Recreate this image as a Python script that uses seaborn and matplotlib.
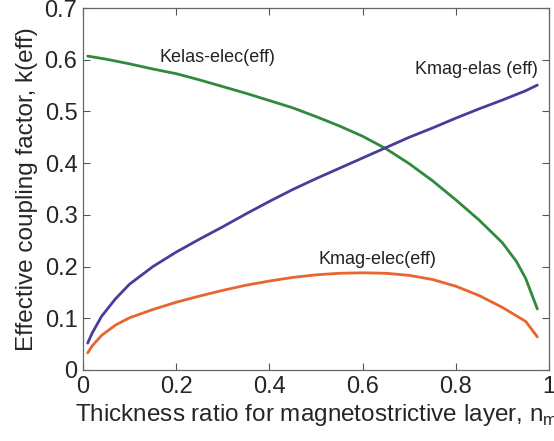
import numpy as np
import pandas as pd
import matplotlib
matplotlib.use("Agg")
import matplotlib.pyplot as plt
import seaborn as sns

# Data
x_green = [0.01, 0.05, 0.1, 0.15, 0.2, 0.25, 0.3, 0.35, 0.4, 0.45, 0.5, 0.55, 0.6,
           0.65, 0.7, 0.75, 0.8, 0.85, 0.9, 0.93, 0.95, 0.975]
k_elas_elec = [0.607, 0.601, 0.592, 0.582, 0.573, 0.561, 0.548, 0.535, 0.521, 0.507, 0.49,
               0.472, 0.452, 0.428, 0.399, 0.366, 0.329, 0.29, 0.246, 0.21, 0.177, 0.118]

x_purple = [0.01, 0.02, 0.04, 0.07, 0.1, 0.15, 0.2, 0.25, 0.3, 0.35, 0.4, 0.45, 0.5,
            0.55, 0.6, 0.65, 0.7, 0.75, 0.8, 0.85, 0.9, 0.95, 0.975]
k_mag_elas = [0.052, 0.072, 0.104, 0.138, 0.166, 0.2, 0.228, 0.253, 0.277, 0.302, 0.326,
              0.349, 0.37, 0.39, 0.41, 0.43, 0.45, 0.468, 0.487, 0.505, 0.522, 0.54, 0.551]

x_orange = [0.01, 0.02, 0.04, 0.07, 0.1, 0.15, 0.2, 0.25, 0.3, 0.35, 0.4, 0.45, 0.5,
            0.55, 0.6, 0.65, 0.7, 0.75, 0.8, 0.85, 0.9, 0.95, 0.975]
k_mag_elec = [0.033, 0.047, 0.067, 0.087, 0.101, 0.117, 0.131, 0.143, 0.154, 0.164, 0.172,
              0.179, 0.184, 0.187, 0.188, 0.187, 0.183, 0.175, 0.162, 0.144, 0.121, 0.094, 0.064]

x_ticks = [0, 0.2, 0.4, 0.6, 0.8, 1]
x_ticklabels = ["0", "0.2", "0.4", "0.6", "0.8", "1"]
y_ticks = [0, 0.1, 0.2, 0.3, 0.4, 0.5, 0.6, 0.7]
y_ticklabels = ["0", "0.1", "0.2", "0.3", "0.4", "0.5", "0.6", "0.7"]

labels = ["Kelas-elec(eff)", "Kmag-elas (eff)", "Kmag-elec(eff)"]
colors = ["#2f8a3c", "#4a3c99", "#e8652e"]

sns.set_style("ticks")
plt.rcParams['font.family'] = ['Liberation Sans', 'DejaVu Sans']

fig = plt.figure(figsize=(5.54, 4.41), dpi=100)
ax = fig.add_axes([83/554, 1 - 370/441, (549-83)/554, (370-8)/441])

df = pd.concat([
    pd.DataFrame({"x": x_green, "k": k_elas_elec, "s": labels[0]}),
    pd.DataFrame({"x": x_purple, "k": k_mag_elas, "s": labels[1]}),
    pd.DataFrame({"x": x_orange, "k": k_mag_elec, "s": labels[2]}),
])
sns.lineplot(data=df, x="x", y="k", hue="s", palette=dict(zip(labels, colors)),
             linewidth=2, legend=False, ax=ax, estimator=None, sort=True)

ax.set_xlim(0, 1)
ax.set_ylim(0, 0.7)
ax.set_xticks(x_ticks)
ax.set_xticklabels(x_ticklabels)
ax.set_yticks(y_ticks)
ax.set_yticklabels(y_ticklabels)
ax.tick_params(direction="in", top=True, right=True, labelsize=17, length=5,
               color="#555555", width=0.8, pad=4)
for sp in ax.spines.values():
    sp.set_color("#666666")
    sp.set_linewidth(0.9)

ax.set_xlabel("Thickness ratio for magnetostrictive layer, n$_\\mathregular{m}$",
              fontsize=17.5, labelpad=3)
ax.set_ylabel("Effective coupling factor, k(eff)", fontsize=17.5, labelpad=5)

ax.text(0.165, 0.587, labels[0], fontsize=13, color="#222222", ha="left", va="bottom")
ax.text(0.713, 0.565, labels[1], fontsize=13, color="#222222", ha="left", va="bottom")
ax.text(0.505, 0.198, labels[2], fontsize=13, color="#222222", ha="left", va="bottom")

fig.savefig("out.png", dpi=100)
